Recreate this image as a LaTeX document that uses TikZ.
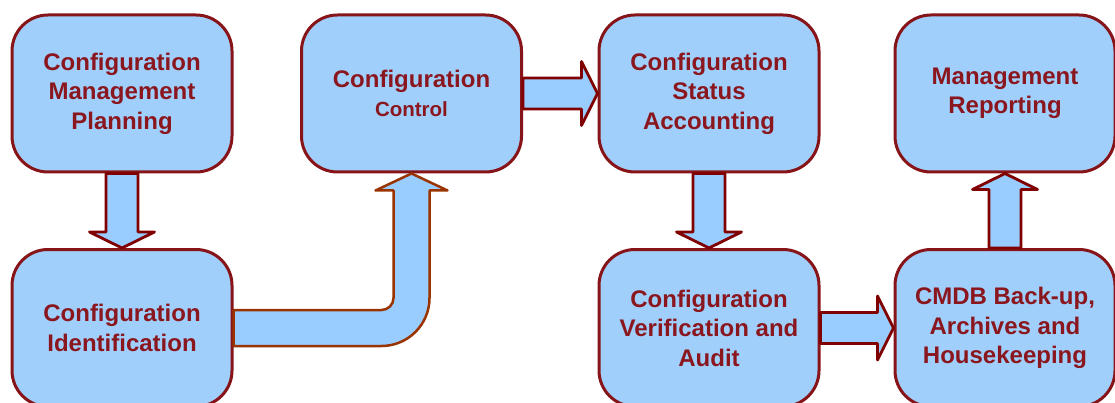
\documentclass[tikz,border=0pt]{standalone}
\usepackage{fontspec}
\setmainfont{Liberation Sans}
\usetikzlibrary{calc}

\definecolor{boxfill}{RGB}{161,207,252}
\definecolor{arrowfill}{RGB}{153,204,255}
\definecolor{boxline}{RGB}{135,20,24}
\definecolor{arrowline}{RGB}{128,0,0}
\definecolor{bentline}{RGB}{153,51,0}
\definecolor{labelred}{RGB}{138,22,30}

% straight block arrows between two stages
\newcommand\flowdown[2]{%
  \draw[blockarrow] ($(#1.south)+(-16,0)$) -- ($(#2.north)+(-16,-16)$) -- ($(#2.north)+(-32.5,-16)$)
    -- (#2.north) -- ($(#2.north)+(32.5,-16)$) -- ($(#2.north)+(16,-16)$) -- ($(#1.south)+(16,0)$) -- cycle;}
\newcommand\flowup[2]{%
  \draw[blockarrow] ($(#1.north)+(-16,0)$) -- ($(#2.south)+(-16,16)$) -- ($(#2.south)+(-32.5,16)$)
    -- (#2.south) -- ($(#2.south)+(32.5,16)$) -- ($(#2.south)+(16,16)$) -- ($(#1.north)+(16,0)$) -- cycle;}
\newcommand\flowright[2]{%
  \draw[blockarrow] ($(#1.east)+(0,-15.5)$) -- ($(#2.west)+(-16,-15.5)$) -- ($(#2.west)+(-16,-32)$)
    -- (#2.west) -- ($(#2.west)+(-16,32)$) -- ($(#2.west)+(-16,15.5)$) -- ($(#1.east)+(0,15.5)$) -- cycle;}

\begin{document}
\begin{tikzpicture}[x=1pt,y=-1pt,
  stage/.style={draw=boxline, line width=3pt, fill=boxfill, rounded corners=36pt,
    minimum width=220pt, minimum height=157pt, inner sep=0pt, text=labelred,
    font=\fontsize{24}{29.5}\selectfont\bfseries, align=center},
  blockarrow/.style={draw=arrowline, fill=arrowfill, line width=2.8pt, line join=round},
  bentarrow/.style={draw=bentline, fill=arrowfill, line width=2.5pt, line join=round}]

\useasboundingbox (0,0) rectangle (1115,403);
\fill[white] (0,0) rectangle (1115,403);

% stages
\node[stage] (cmp)  at (122,93.5)  {Configuration\\Management\\Planning};
\node[stage] (ctl)  at (411.5,93.5) {Configuration\\\fontsize{20.5}{27}\selectfont Control};
\node[stage] (csa)  at (709,93.5)  {Configuration\\Status\\Accounting};
\node[stage] (mr)   at (1005,93.5) {Management\\Reporting};
\node[stage] (cid)  at (122,328)   {Configuration\\Identification};
\node[stage] (cva)  at (709,328)   {Configuration\\Verification and\\Audit};
\node[stage] (cmdb) at (1005,328)  {CMDB Back-up,\\Archives and\\Housekeeping};

% flow between stages
\flowdown{cmp}{cid}
\flowright{ctl}{csa}
\flowdown{csa}{cva}
\flowright{cva}{cmdb}
\flowup{cmdb}{mr}

% bent arrow from identification up to control
\coordinate (bs) at (cid.east);
\coordinate (bt) at (ctl.south);
\coordinate (bk) at (bt |- bs);
\draw[bentarrow] ($(bs)+(0,-18)$) -- ($(bk)+(-30,-18)$)
  .. controls +(6.6,0) and +(0,6.6) .. ($(bk)+(-18,-30)$)
  -- ($(bt)+(-18,17)$) -- ($(bt)+(-36,17)$) -- (bt) -- ($(bt)+(36,17)$) -- ($(bt)+(18,17)$)
  -- ($(bk)+(18,-30)$)
  .. controls +(0,26.5) and +(26.5,0) .. ($(bk)+(-30,18)$)
  -- ($(bs)+(0,18)$) -- cycle;
\end{tikzpicture}
\end{document}
